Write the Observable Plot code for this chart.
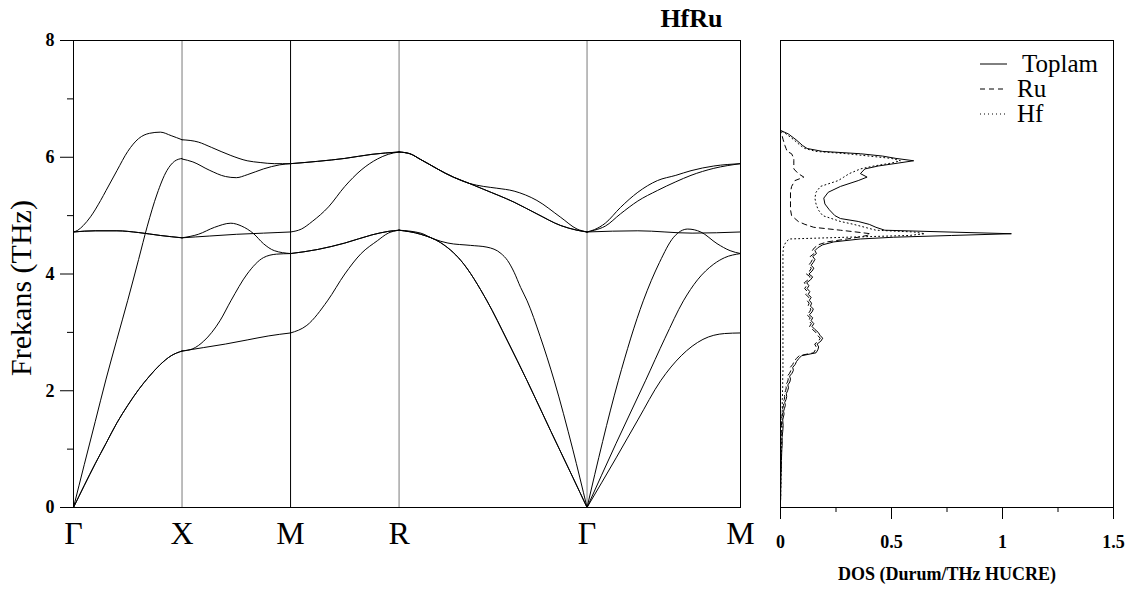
<!DOCTYPE html>
<html><head><meta charset="utf-8">
<script src="https://cdn.jsdelivr.net/npm/d3@7"></script>
<script src="https://cdn.jsdelivr.net/npm/@observablehq/plot@0.6"></script>
<style>
body{margin:0;background:#fff;}
#wrap{position:relative;width:1134px;height:595px;font-family:"Liberation Serif","DejaVu Serif",serif;color:#000;}
#band{position:absolute;left:0;top:0;}
#dos{position:absolute;left:760px;top:0;}
#legend{position:absolute;left:980px;top:51px;font-size:25px;line-height:25px;}
#legend .row{display:flex;align-items:center;height:25px;white-space:nowrap;}
#legend svg{margin-right:10px;}
</style></head><body>
<div id="wrap"><div id="band"></div><div id="dos"></div><div id="legend"></div></div>
<script>
// ---------- labels ----------
const chartTitle = "HfRu";
const yTitle = "Frekans (THz)";
const dosTitle = "DOS (Durum/THz HUCRE)";
const symLabels = ["Γ", "X", "M", "R", "Γ", "M"];
const symK = [0, 1, 2, 3, 4.732, 6.146];
const yMajor = [0, 2, 4, 6, 8];
const yMinor = [1, 3, 5, 7];
const dosMajor = [0, 0.5, 1, 1.5];
const dosMinor = [0.25, 0.75, 1.25];
const legendLabels = ["Toplam", "Ru", "Hf"];

// ---------- phonon branches [k, THz] ----------
// Γ–X
const GX_TA = [[0,0],[0.1,0.38],[0.2,0.75],[0.3,1.1],[0.4,1.45],[0.5,1.75],[0.6,2.02],[0.7,2.25],[0.8,2.45],[0.9,2.6],[1,2.68]];
const GX_LA = [[0,0],[0.1,0.74],[0.2,1.47],[0.3,2.2],[0.4,2.88],[0.5,3.55],[0.6,4.25],[0.68,4.82],[0.77,5.37],[0.86,5.77],[0.93,5.93],[1,5.98]];
const GX_TO = [[0,4.72],[0.2,4.74],[0.4,4.74],[0.6,4.71],[0.8,4.66],[1,4.62]];
const GX_LO = [[0,4.72],[0.04,4.75],[0.09,4.83],[0.157,4.98],[0.25,5.26],[0.3,5.43],[0.4,5.77],[0.5,6.1],[0.6,6.32],[0.7,6.41],[0.8,6.43],[0.9,6.37],[1,6.3]];
// X–M
const XM_1 = [[1,2.68],[1.2,2.74],[1.4,2.8],[1.6,2.87],[1.8,2.94],[2,2.99]];
const XM_2 = [[1,2.68],[1.1,2.72],[1.2,2.85],[1.35,3.2],[1.45,3.54],[1.6,4.0],[1.75,4.28],[1.87,4.34],[2,4.35]];
const XM_3 = [[1,4.62],[1.15,4.68],[1.3,4.8],[1.45,4.87],[1.55,4.82],[1.66,4.69],[1.75,4.52],[1.85,4.4],[2,4.35]];
const XM_4 = [[1,4.62],[1.25,4.65],[1.5,4.68],[1.75,4.7],[2,4.72]];
const XM_5 = [[1,5.97],[1.1,5.92],[1.25,5.78],[1.4,5.67],[1.5,5.65],[1.6,5.7],[1.75,5.8],[1.9,5.87],[2,5.89]];
const XM_6 = [[1,6.3],[1.15,6.26],[1.27,6.17],[1.45,6.03],[1.6,5.94],[1.72,5.91],[1.85,5.89],[2,5.89]];
// M–R
const MR_1 = [[2,2.99],[2.15,3.12],[2.34,3.54],[2.5,4.0],[2.65,4.35],[2.8,4.57],[2.9,4.7],[3,4.75]];
const MR_2 = [[2,4.35],[2.25,4.42],[2.5,4.53],[2.75,4.67],[2.9,4.73],[3,4.75]];
const MR_3 = [[2,4.72],[2.1,4.77],[2.2,4.9],[2.35,5.15],[2.5,5.5],[2.65,5.78],[2.8,5.97],[2.9,6.05],[3,6.09]];
const MR_4 = [[2,5.89],[2.25,5.93],[2.5,5.98],[2.75,6.05],[3,6.09]];
// R–Γ
const RG_TA = [[3,4.75],[3.2,4.68],[3.38,4.54],[3.57,4.23],[3.81,3.54],[4.0,2.85],[4.18,2.17],[4.4,1.3],[4.6,0.52],[4.732,0]];
const RG_LA = [[3,4.75],[3.2,4.7],[3.32,4.6],[3.45,4.53],[3.66,4.49],[3.81,4.46],[3.94,4.35],[4.0,4.23],[4.06,4.03],[4.12,3.77],[4.18,3.54],[4.3,2.93],[4.43,2.17],[4.6,1.0],[4.732,0]];
const RG_OU = [[3,6.09],[3.1,6.06],[3.2,5.96],[3.5,5.66],[3.65,5.55],[3.78,5.5],[3.9,5.47],[4.06,5.42],[4.27,5.26],[4.49,4.97],[4.64,4.77],[4.732,4.72]];
const RG_OL = [[3,6.09],[3.1,6.06],[3.2,5.96],[3.5,5.66],[3.65,5.55],[3.78,5.45],[4.06,5.23],[4.27,5.03],[4.49,4.83],[4.64,4.75],[4.732,4.72]];
// Γ–M
const GM_TA1 = [[4.732,0],[5.0,0.85],[5.2,1.5],[5.41,2.17],[5.6,2.6],[5.8,2.88],[6.0,2.98],[6.146,2.99]];
const GM_TA2 = [[4.732,0],[5.0,1.1],[5.27,2.17],[5.45,2.9],[5.62,3.54],[5.75,3.9],[5.9,4.17],[6.0,4.28],[6.146,4.35]];
const GM_LA = [[4.732,0],[5.02,2.17],[5.25,3.54],[5.4,4.2],[5.53,4.63],[5.66,4.77],[5.78,4.72],[5.93,4.52],[6.05,4.4],[6.146,4.35]];
const GM_TO = [[4.732,4.72],[5.2,4.74],[5.7,4.7],[6.146,4.72]];
const GM_O1 = [[4.732,4.72],[4.8,4.76],[4.9,4.87],[5.04,5.14],[5.2,5.4],[5.38,5.6],[5.55,5.69],[5.69,5.77],[5.9,5.85],[6.146,5.89]];
const GM_O2 = [[4.732,4.72],[4.8,4.75],[4.9,4.82],[5.04,5.03],[5.2,5.25],[5.38,5.43],[5.55,5.58],[5.69,5.69],[5.9,5.81],[6.146,5.89]];

// ---------- DOS ----------
const dosFreq = [
 0,0.1,0.2,0.3,0.4,0.5,0.6,0.7,0.8,0.9,1.0,1.1,1.2,1.3,1.4,1.5,
 1.55,1.6,1.65,1.7,1.75,1.8,1.85,1.9,1.95,2.0,2.05,2.1,2.15,2.2,2.25,2.3,2.35,2.4,2.45,2.5,
 2.55,2.6,2.65,2.7,2.75,2.8,2.85,2.9,2.95,3.0,3.05,3.1,3.15,3.2,3.25,3.3,3.35,3.4,3.45,3.5,
 3.55,3.6,3.65,3.7,3.75,3.8,3.85,3.9,3.95,4.0,4.05,4.1,4.15,4.2,4.25,4.3,4.35,4.4,
 4.45,4.5,4.55,4.6,4.63,4.66,4.69,4.72,4.75,4.8,4.85,4.9,4.95,5.0,5.1,5.2,5.3,5.4,5.5,5.6,5.66,5.72,5.8,5.85,5.9,5.94,5.98,6.02,6.06,6.1,6.15,6.2,6.3,6.4,6.46];
const dosTotal = [
 0,0,0.001,0.001,0.002,0.002,0.003,0.004,0.004,0.005,0.006,0.008,0.007,0.010,0.012,0.010,
 0.013,0.016,0.014,0.018,0.022,0.019,0.025,0.028,0.026,0.032,0.036,0.033,0.042,0.045,0.041,0.052,0.058,0.055,0.066,0.072,
 0.082,0.095,0.160,0.168,0.172,0.165,0.182,0.190,0.178,0.170,0.155,0.142,0.150,0.138,0.145,0.130,0.142,0.148,0.135,0.140,
 0.130,0.138,0.125,0.132,0.120,0.128,0.118,0.135,0.145,0.128,0.142,0.150,0.138,0.148,0.155,0.145,0.162,0.155,
 0.168,0.19,0.24,0.36,0.51,0.77,1.04,0.75,0.47,0.43,0.40,0.35,0.27,0.245,0.22,0.20,0.195,0.215,0.27,0.35,0.39,0.36,0.38,0.44,0.53,0.60,0.52,0.46,0.36,0.19,0.12,0.10,0.07,0.035,0];
const dosRu = [
 0,0,0,0,0,0,0,0.001,0,0.001,0.001,0.003,0.001,0.004,0.005,0.003,
 0.006,0.009,0.006,0.010,0.014,0.011,0.017,0.019,0.017,0.023,0.026,0.023,0.032,0.035,0.031,0.041,0.047,0.044,0.055,0.061,
 0.071,0.084,0.149,0.157,0.161,0.154,0.171,0.179,0.167,0.159,0.144,0.131,0.139,0.127,0.134,0.119,0.131,0.137,0.124,0.129,
 0.119,0.127,0.114,0.121,0.109,0.117,0.107,0.124,0.134,0.117,0.131,0.139,0.127,0.137,0.144,0.134,0.151,0.143,
 0.153,0.17,0.21,0.30,0.35,0.39,0.405,0.34,0.27,0.15,0.11,0.08,0.065,0.05,0.045,0.045,0.045,0.045,0.05,0.065,0.105,0.08,0.06,0.06,0.06,0.06,0.06,0.055,0.05,0.03,0.025,0.02,0.012,0.005,0];
const dosHf = [
 0,0,0.001,0.001,0.002,0.002,0.003,0.003,0.004,0.004,0.005,0.005,0.006,0.006,0.007,0.007,
 0.007,0.007,0.008,0.008,0.008,0.008,0.008,0.009,0.009,0.009,0.010,0.010,0.010,0.010,0.010,0.011,0.011,0.011,0.011,0.011,
 0.011,0.011,0.011,0.011,0.011,0.011,0.011,0.011,0.011,0.011,0.011,0.011,0.011,0.011,0.011,0.011,0.011,0.011,0.011,0.011,
 0.011,0.011,0.011,0.011,0.011,0.011,0.011,0.011,0.011,0.011,0.011,0.011,0.011,0.011,0.011,0.011,0.011,0.012,
 0.013,0.018,0.025,0.04,0.30,0.58,0.65,0.60,0.43,0.38,0.33,0.27,0.23,0.19,0.17,0.16,0.155,0.16,0.18,0.26,0.285,0.31,0.36,0.42,0.50,0.54,0.50,0.40,0.30,0.16,0.11,0.09,0.06,0.025,0];

// ---------- build tables ----------
const branches = [
  GX_TA, GX_TA, GX_LA, GX_TO, GX_TO, GX_LO,
  XM_1, XM_2, XM_3, XM_4, XM_5, XM_6,
  MR_1, MR_2, MR_2, MR_3, MR_4, MR_4,
  RG_TA, RG_TA, RG_LA, RG_OU, RG_OL, RG_OL,
  GM_TA1, GM_TA2, GM_LA, GM_TO, GM_O1, GM_O2
];
const bandRows = branches.flatMap((pts, b) => pts.map(([k, f]) => ({k, f, b})));
const dosRows = (vals) => dosFreq.map((f, i) => ({f, v: vals[i]}));
const serif = "'Liberation Serif','DejaVu Serif',serif";
const symIdx = symLabels.map((d, i) => i);

const band = Plot.plot({
  width: 760, height: 595,
  marginLeft: 73, marginRight: 20, marginTop: 40, marginBottom: 88,
  x: {domain: [symK[0], symK[symK.length - 1]], axis: null},
  y: {domain: [0, 8], axis: null},
  style: {fontFamily: serif, background: "white", color: "black"},
  marks: [
    Plot.ruleX(symIdx.filter(i => i === 1 || i === 3 || i === 4), {x: i => symK[i], stroke: "#7a7a7a", strokeWidth: 1}),
    Plot.ruleX(symIdx.filter(i => i === 2), {x: i => symK[i], stroke: "black", strokeWidth: 1}),
    Plot.line(bandRows, {x: "k", y: "f", z: "b", curve: "monotone-x", stroke: "black", strokeWidth: 1}),
    Plot.frame({stroke: "black"}),
    Plot.axisY(yMajor, {tickSize: 13, tickPadding: 6, fontSize: 18, fontWeight: "bold", fontFamily: serif, label: null, tickFormat: d => String(d)}),
    Plot.axisY(yMinor, {tickSize: 6, tickFormat: () => "", label: null}),
    Plot.text(symLabels, {x: (d, i) => symK[i], y: () => 0, text: d => d, lineAnchor: "bottom", dy: 36, fontSize: 32, fontFamily: serif, fill: "black"}),
    Plot.text([yTitle], {frameAnchor: "left", text: d => d, textAnchor: "middle", rotate: -90, dx: -52, dy: 14, fontSize: 30, fontFamily: serif, fill: "black"}),
    Plot.text([chartTitle], {frameAnchor: "top-right", text: d => d, textAnchor: "end", lineAnchor: "bottom", dx: -18, dy: -14, fontSize: 26, fontWeight: "bold", fontFamily: serif, fill: "black"})
  ]
});
document.getElementById("band").appendChild(band);

const dash = {Toplam: null, Ru: "5,4", Hf: "1,3"};
const dos = Plot.plot({
  width: 374, height: 595,
  marginLeft: 20, marginRight: 21, marginTop: 40, marginBottom: 88,
  x: {domain: [0, 1.5], axis: null},
  y: {domain: [0, 8], axis: null},
  style: {fontFamily: serif, background: "white", color: "black"},
  marks: [
    Plot.line(dosRows(dosHf), {x: "v", y: "f", stroke: "black", strokeWidth: 1, strokeDasharray: dash.Hf}),
    Plot.line(dosRows(dosRu), {x: "v", y: "f", stroke: "black", strokeWidth: 1, strokeDasharray: dash.Ru}),
    Plot.line(dosRows(dosTotal), {x: "v", y: "f", stroke: "black", strokeWidth: 1}),
    Plot.frame({stroke: "black"}),
    Plot.axisX(dosMajor, {tickSize: 12, tickPadding: 16, fontSize: 18, fontWeight: "bold", fontFamily: serif, label: null, tickFormat: d => String(d)}),
    Plot.axisX(dosMinor, {tickSize: 5, tickFormat: () => "", label: null}),
    Plot.text([dosTitle], {frameAnchor: "bottom", text: d => d, lineAnchor: "bottom", dy: 72, fontSize: 18, fontWeight: "bold", fontFamily: serif, fill: "black"})
  ]
});
document.getElementById("dos").appendChild(dos);

// legend
const leg = document.getElementById("legend");
legendLabels.forEach(name => {
  const row = document.createElement("div");
  row.className = "row";
  const da = dash[name];
  row.innerHTML = `<svg width="27" height="10"><line x1="0" x2="27" y1="5" y2="5" stroke="black" stroke-width="1" ${da ? `stroke-dasharray="${da}"` : ""}/></svg><span style="padding-left:${name === "Toplam" ? 5 : 0}px">${name}</span>`;
  leg.appendChild(row);
});
</script>
</body></html>
